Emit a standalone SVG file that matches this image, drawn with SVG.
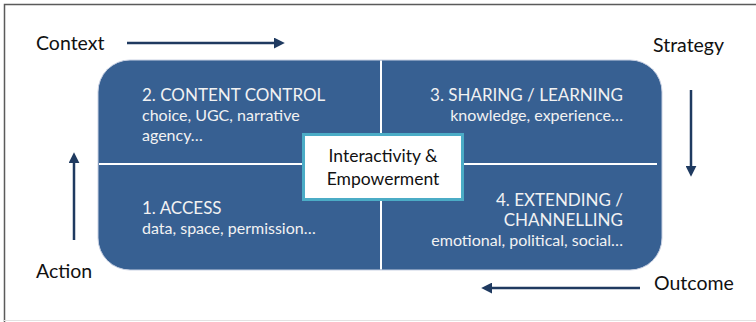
<svg xmlns="http://www.w3.org/2000/svg" width="756" height="322" viewBox="0 0 756 322">
  <style>
    .lbl { font-family: Lato, "Liberation Sans", sans-serif; font-size: 19.5px; fill: #111; }
    .head { font-family: Lato, "Liberation Sans", sans-serif; font-size: 17px; fill: #f2f2f2; }
    .sub { font-family: Lato, "Liberation Sans", sans-serif; font-size: 16px; fill: #f2f2f2; }
    .core { font-family: Lato, "Liberation Sans", sans-serif; font-size: 17.5px; fill: #111; text-anchor: middle; }
    .arrow { stroke: #1f3a60; stroke-width: 2.5; fill: none; }
    .divider { stroke: #ffffff; stroke-width: 2; }
    .end { text-anchor: end; }
  </style>
  <defs>
    <marker id="head" viewBox="0 0 10 10" refX="2" refY="5" markerWidth="4.4" markerHeight="4.4" orient="auto" markerUnits="strokeWidth">
      <path d="M0,0 L10,5 L0,10 z" fill="#1f3a60"/>
    </marker>
  </defs>

  <!-- frame -->
  <rect x="0" y="0" width="756" height="322" fill="#ffffff"/>
  <path d="M4.5,322 V4.5 H756" stroke="#5a5a5a" stroke-width="1.5" fill="none"/>
  <line x1="4" y1="320.5" x2="756" y2="320.5" stroke="#e2e2e2" stroke-width="1"/>

  <!-- central panel -->
  <g id="panel">
    <rect x="98" y="60" width="564" height="210" rx="32" ry="32" fill="#376092" stroke="#c9d1e3" stroke-width="1"/>
    <line class="divider" x1="381" y1="60.5" x2="381" y2="269.5"/>
    <line class="divider" x1="99" y1="164" x2="657" y2="164"/>
  </g>

  <g id="q2">
    <text class="head" x="142" y="101">2. CONTENT CONTROL</text>
    <text class="sub" x="142" y="121">choice, UGC, narrative</text>
    <text class="sub" x="142" y="141">agency…</text>
  </g>
  <g id="q3">
    <text class="head end" x="623" y="101">3. SHARING / LEARNING</text>
    <text class="sub end" x="623" y="121">knowledge, experience…</text>
  </g>
  <g id="q1">
    <text class="head" x="142" y="214">1. ACCESS</text>
    <text class="sub" x="142" y="234">data, space, permission…</text>
  </g>
  <g id="q4">
    <text class="head end" x="623" y="206">4. EXTENDING /</text>
    <text class="head end" x="623" y="226">CHANNELLING</text>
    <text class="sub end" x="623" y="246">emotional, political, social…</text>
  </g>

  <g id="core">
    <rect x="303.5" y="134.5" width="159" height="65" fill="#ffffff" stroke="#4bacc6" stroke-width="3"/>
    <text class="core" x="383" y="162">Interactivity &amp;</text>
    <text class="core" x="383" y="185">Empowerment</text>
  </g>

  <g id="context"><text class="lbl" x="36" y="50">Context</text></g>
  <g id="strategy"><text class="lbl" x="653" y="52">Strategy</text></g>
  <g id="outcome"><text class="lbl" x="654" y="290">Outcome</text></g>
  <g id="action"><text class="lbl" x="36" y="278">Action</text></g>

  <g id="connectors">
    <line class="arrow" x1="127" y1="43" x2="276" y2="43" marker-end="url(#head)"/>
    <line class="arrow" x1="691" y1="90" x2="691" y2="168" marker-end="url(#head)"/>
    <line class="arrow" x1="640" y1="288" x2="490" y2="288" marker-end="url(#head)"/>
    <line class="arrow" x1="74" y1="240" x2="74" y2="161" marker-end="url(#head)"/>
  </g>
</svg>
